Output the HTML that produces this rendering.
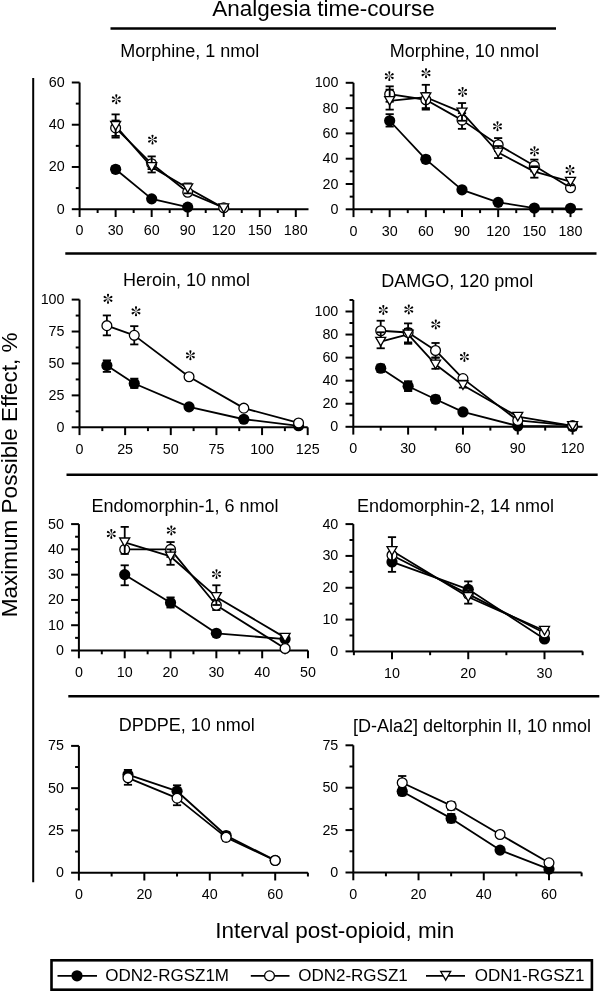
<!DOCTYPE html>
<html><head><meta charset="utf-8"><title>Analgesia time-course</title>
<style>
html,body{margin:0;padding:0;background:#fff;width:600px;height:992px;overflow:hidden}
svg text{stroke:none;fill:#000}
svg{filter:grayscale(1)}
</style></head><body>
<svg width="600" height="992" viewBox="0 0 600 992" style="position:absolute;left:0;top:0" stroke="#000" fill="#000" font-family='"Liberation Sans", sans-serif'>
<text x="212.2" y="16.2" font-size="22.5" text-anchor="start" stroke="none">Analgesia time-course</text>
<line x1="110.5" y1="28.5" x2="556" y2="28.5" stroke-width="2.5" stroke-linecap="butt"/>
<line x1="33.2" y1="78" x2="33.2" y2="882.2" stroke-width="2" stroke-linecap="butt"/>
<line x1="65.3" y1="253.6" x2="596.5" y2="253.6" stroke-width="2.5" stroke-linecap="butt"/>
<line x1="66.5" y1="474.7" x2="597.7" y2="474.7" stroke-width="2.5" stroke-linecap="butt"/>
<line x1="68.3" y1="696.3" x2="599.3" y2="696.3" stroke-width="2.5" stroke-linecap="butt"/>
<text x="0" y="0" font-size="22.5" text-anchor="middle" stroke="none" transform="translate(16.6,474.8) rotate(-90)">Maximum Possible Effect, %</text>
<text x="215.3" y="937.5" font-size="22.5" text-anchor="start" stroke="none">Interval post-opioid, min</text>
<text x="120.2" y="57.4" font-size="18" text-anchor="start" stroke="none">Morphine, 1 nmol</text>
<text x="389.8" y="57.4" font-size="18" text-anchor="start" stroke="none">Morphine, 10 nmol</text>
<text x="123" y="285.8" font-size="18" text-anchor="start" stroke="none">Heroin, 10 nmol</text>
<text x="381.3" y="287" font-size="18" text-anchor="start" stroke="none">DAMGO, 120 pmol</text>
<text x="91.5" y="512" font-size="18" text-anchor="start" stroke="none">Endomorphin-1, 6 nmol</text>
<text x="357" y="511.8" font-size="18" text-anchor="start" stroke="none">Endomorphin-2, 14 nmol</text>
<text x="118.7" y="731.2" font-size="18" text-anchor="start" stroke="none">DPDPE, 10 nmol</text>
<text x="353" y="731.6" font-size="18" text-anchor="start" stroke="none">[D-Ala2] deltorphin II, 10 nmol</text>
<g stroke="none">
</g>
<line x1="79.6" y1="82.5" x2="79.6" y2="209.2" stroke-width="2" stroke-linecap="butt"/>
<line x1="79.6" y1="209.2" x2="308.5" y2="209.2" stroke-width="2" stroke-linecap="butt"/>
<line x1="71.8" y1="209.2" x2="79.6" y2="209.2" stroke-width="2" stroke-linecap="butt"/>
<line x1="71.8" y1="166.97" x2="79.6" y2="166.97" stroke-width="2" stroke-linecap="butt"/>
<line x1="71.8" y1="124.73" x2="79.6" y2="124.73" stroke-width="2" stroke-linecap="butt"/>
<line x1="71.8" y1="82.5" x2="79.6" y2="82.5" stroke-width="2" stroke-linecap="butt"/>
<line x1="75.8" y1="188.08" x2="79.6" y2="188.08" stroke-width="2" stroke-linecap="butt"/>
<line x1="75.8" y1="145.85" x2="79.6" y2="145.85" stroke-width="2" stroke-linecap="butt"/>
<line x1="75.8" y1="103.62" x2="79.6" y2="103.62" stroke-width="2" stroke-linecap="butt"/>
<line x1="79.6" y1="209.2" x2="79.6" y2="217" stroke-width="2" stroke-linecap="butt"/>
<line x1="115.63" y1="209.2" x2="115.63" y2="217" stroke-width="2" stroke-linecap="butt"/>
<line x1="151.67" y1="209.2" x2="151.67" y2="217" stroke-width="2" stroke-linecap="butt"/>
<line x1="187.7" y1="209.2" x2="187.7" y2="217" stroke-width="2" stroke-linecap="butt"/>
<line x1="223.73" y1="209.2" x2="223.73" y2="217" stroke-width="2" stroke-linecap="butt"/>
<line x1="259.77" y1="209.2" x2="259.77" y2="217" stroke-width="2" stroke-linecap="butt"/>
<line x1="295.8" y1="209.2" x2="295.8" y2="217" stroke-width="2" stroke-linecap="butt"/>
<line x1="97.62" y1="209.2" x2="97.62" y2="213" stroke-width="2" stroke-linecap="butt"/>
<line x1="133.65" y1="209.2" x2="133.65" y2="213" stroke-width="2" stroke-linecap="butt"/>
<line x1="169.68" y1="209.2" x2="169.68" y2="213" stroke-width="2" stroke-linecap="butt"/>
<line x1="205.72" y1="209.2" x2="205.72" y2="213" stroke-width="2" stroke-linecap="butt"/>
<line x1="241.75" y1="209.2" x2="241.75" y2="213" stroke-width="2" stroke-linecap="butt"/>
<line x1="277.78" y1="209.2" x2="277.78" y2="213" stroke-width="2" stroke-linecap="butt"/>
<text x="64.6" y="213.7" font-size="14.3" text-anchor="end">0</text>
<text x="64.6" y="171.47" font-size="14.3" text-anchor="end">20</text>
<text x="64.6" y="129.23" font-size="14.3" text-anchor="end">40</text>
<text x="64.6" y="87" font-size="14.3" text-anchor="end">60</text>
<text x="79.6" y="235.4" font-size="14.3" text-anchor="middle">0</text>
<text x="115.63" y="235.4" font-size="14.3" text-anchor="middle">30</text>
<text x="151.67" y="235.4" font-size="14.3" text-anchor="middle">60</text>
<text x="187.7" y="235.4" font-size="14.3" text-anchor="middle">90</text>
<text x="223.73" y="235.4" font-size="14.3" text-anchor="middle">120</text>
<text x="259.77" y="235.4" font-size="14.3" text-anchor="middle">150</text>
<text x="295.8" y="235.4" font-size="14.3" text-anchor="middle">180</text>
<path d="M115.63,169.29L151.67,198.85L187.7,207.09" fill="none" stroke-width="1.8" stroke-linejoin="round"/>
<path d="M115.63,127.9L151.67,163.8L187.7,192.31L223.73,207.72" fill="none" stroke-width="1.8" stroke-linejoin="round"/>
<path d="M115.63,125.79L151.67,166.97L187.7,188.08L223.73,208.14" fill="none" stroke-width="1.8" stroke-linejoin="round"/>
<line x1="115.63" y1="172.46" x2="115.63" y2="166.12" stroke-width="1.8" stroke-linecap="butt"/>
<line x1="111.53" y1="172.46" x2="119.73" y2="172.46" stroke-width="1.8" stroke-linecap="butt"/>
<line x1="111.53" y1="166.12" x2="119.73" y2="166.12" stroke-width="1.8" stroke-linecap="butt"/>
<circle cx="115.63" cy="169.29" r="5.6" fill="#000" stroke="none"/>
<circle cx="151.67" cy="198.85" r="5.6" fill="#000" stroke="none"/>
<circle cx="187.7" cy="207.09" r="5.6" fill="#000" stroke="none"/>
<line x1="115.63" y1="135.93" x2="115.63" y2="120.51" stroke-width="1.8" stroke-linecap="butt"/>
<line x1="111.53" y1="135.93" x2="119.73" y2="135.93" stroke-width="1.8" stroke-linecap="butt"/>
<line x1="111.53" y1="120.51" x2="119.73" y2="120.51" stroke-width="1.8" stroke-linecap="butt"/>
<line x1="151.67" y1="169.08" x2="151.67" y2="160.63" stroke-width="1.8" stroke-linecap="butt"/>
<line x1="147.57" y1="169.08" x2="155.77" y2="169.08" stroke-width="1.8" stroke-linecap="butt"/>
<line x1="147.57" y1="160.63" x2="155.77" y2="160.63" stroke-width="1.8" stroke-linecap="butt"/>
<circle cx="115.63" cy="127.9" r="4.9" fill="#fff" stroke-width="1.3"/>
<circle cx="151.67" cy="163.8" r="4.9" fill="#fff" stroke-width="1.3"/>
<circle cx="187.7" cy="192.31" r="4.9" fill="#fff" stroke-width="1.3"/>
<circle cx="223.73" cy="207.72" r="4.9" fill="#fff" stroke-width="1.3"/>
<line x1="115.63" y1="137.61" x2="115.63" y2="114.39" stroke-width="1.8" stroke-linecap="butt"/>
<line x1="111.53" y1="137.61" x2="119.73" y2="137.61" stroke-width="1.8" stroke-linecap="butt"/>
<line x1="111.53" y1="114.39" x2="119.73" y2="114.39" stroke-width="1.8" stroke-linecap="butt"/>
<line x1="151.67" y1="172.46" x2="151.67" y2="156.41" stroke-width="1.8" stroke-linecap="butt"/>
<line x1="147.57" y1="172.46" x2="155.77" y2="172.46" stroke-width="1.8" stroke-linecap="butt"/>
<line x1="147.57" y1="156.41" x2="155.77" y2="156.41" stroke-width="1.8" stroke-linecap="butt"/>
<line x1="187.7" y1="193.36" x2="187.7" y2="183.44" stroke-width="1.8" stroke-linecap="butt"/>
<line x1="183.6" y1="193.36" x2="191.8" y2="193.36" stroke-width="1.8" stroke-linecap="butt"/>
<line x1="183.6" y1="183.44" x2="191.8" y2="183.44" stroke-width="1.8" stroke-linecap="butt"/>
<path d="M110.63,121.49L120.63,121.49L115.63,130.09Z" fill="#fff" stroke-width="1.3" stroke-linejoin="miter"/>
<path d="M146.67,162.67L156.67,162.67L151.67,171.27Z" fill="#fff" stroke-width="1.3" stroke-linejoin="miter"/>
<path d="M182.7,183.78L192.7,183.78L187.7,192.38Z" fill="#fff" stroke-width="1.3" stroke-linejoin="miter"/>
<path d="M218.73,203.84L228.73,203.84L223.73,212.44Z" fill="#fff" stroke-width="1.3" stroke-linejoin="miter"/>
<circle cx="116.3" cy="99.3" r="0.5" fill="#000" stroke="none"/>
<path d="M116.3,98.8L117.3,95.72A1.05,1.05 0 1 0 115.3,95.72ZM116.73,99.05L119.9,98.38A1.05,1.05 0 1 0 118.9,96.65ZM116.73,99.55L118.9,101.95A1.05,1.05 0 1 0 119.9,100.22ZM116.3,99.8L115.3,102.88A1.05,1.05 0 1 0 117.3,102.88ZM115.87,99.05L113.7,96.65A1.05,1.05 0 1 0 112.7,98.38ZM115.87,99.55L112.7,100.22A1.05,1.05 0 1 0 113.7,101.95Z" fill="#000" stroke="none"/>
<circle cx="152.5" cy="139.6" r="0.5" fill="#000" stroke="none"/>
<path d="M152.5,139.1L153.5,136.02A1.05,1.05 0 1 0 151.5,136.02ZM152.93,139.35L156.1,138.68A1.05,1.05 0 1 0 155.1,136.95ZM152.93,139.85L155.1,142.25A1.05,1.05 0 1 0 156.1,140.52ZM152.5,140.1L151.5,143.18A1.05,1.05 0 1 0 153.5,143.18ZM152.07,139.35L149.9,136.95A1.05,1.05 0 1 0 148.9,138.68ZM152.07,139.85L148.9,140.52A1.05,1.05 0 1 0 149.9,142.25Z" fill="#000" stroke="none"/>
<line x1="353.5" y1="82.8" x2="353.5" y2="209.3" stroke-width="2" stroke-linecap="butt"/>
<line x1="353.5" y1="209.3" x2="582.5" y2="209.3" stroke-width="2" stroke-linecap="butt"/>
<line x1="345.7" y1="209.3" x2="353.5" y2="209.3" stroke-width="2" stroke-linecap="butt"/>
<line x1="345.7" y1="184" x2="353.5" y2="184" stroke-width="2" stroke-linecap="butt"/>
<line x1="345.7" y1="158.7" x2="353.5" y2="158.7" stroke-width="2" stroke-linecap="butt"/>
<line x1="345.7" y1="133.4" x2="353.5" y2="133.4" stroke-width="2" stroke-linecap="butt"/>
<line x1="345.7" y1="108.1" x2="353.5" y2="108.1" stroke-width="2" stroke-linecap="butt"/>
<line x1="345.7" y1="82.8" x2="353.5" y2="82.8" stroke-width="2" stroke-linecap="butt"/>
<line x1="349.7" y1="196.65" x2="353.5" y2="196.65" stroke-width="2" stroke-linecap="butt"/>
<line x1="349.7" y1="171.35" x2="353.5" y2="171.35" stroke-width="2" stroke-linecap="butt"/>
<line x1="349.7" y1="146.05" x2="353.5" y2="146.05" stroke-width="2" stroke-linecap="butt"/>
<line x1="349.7" y1="120.75" x2="353.5" y2="120.75" stroke-width="2" stroke-linecap="butt"/>
<line x1="349.7" y1="95.45" x2="353.5" y2="95.45" stroke-width="2" stroke-linecap="butt"/>
<line x1="353.5" y1="209.3" x2="353.5" y2="217.1" stroke-width="2" stroke-linecap="butt"/>
<line x1="389.67" y1="209.3" x2="389.67" y2="217.1" stroke-width="2" stroke-linecap="butt"/>
<line x1="425.83" y1="209.3" x2="425.83" y2="217.1" stroke-width="2" stroke-linecap="butt"/>
<line x1="462" y1="209.3" x2="462" y2="217.1" stroke-width="2" stroke-linecap="butt"/>
<line x1="498.17" y1="209.3" x2="498.17" y2="217.1" stroke-width="2" stroke-linecap="butt"/>
<line x1="534.33" y1="209.3" x2="534.33" y2="217.1" stroke-width="2" stroke-linecap="butt"/>
<line x1="570.5" y1="209.3" x2="570.5" y2="217.1" stroke-width="2" stroke-linecap="butt"/>
<line x1="371.58" y1="209.3" x2="371.58" y2="213.1" stroke-width="2" stroke-linecap="butt"/>
<line x1="407.75" y1="209.3" x2="407.75" y2="213.1" stroke-width="2" stroke-linecap="butt"/>
<line x1="443.92" y1="209.3" x2="443.92" y2="213.1" stroke-width="2" stroke-linecap="butt"/>
<line x1="480.08" y1="209.3" x2="480.08" y2="213.1" stroke-width="2" stroke-linecap="butt"/>
<line x1="516.25" y1="209.3" x2="516.25" y2="213.1" stroke-width="2" stroke-linecap="butt"/>
<line x1="552.42" y1="209.3" x2="552.42" y2="213.1" stroke-width="2" stroke-linecap="butt"/>
<text x="338.5" y="213.8" font-size="14.3" text-anchor="end">0</text>
<text x="338.5" y="188.5" font-size="14.3" text-anchor="end">20</text>
<text x="338.5" y="163.2" font-size="14.3" text-anchor="end">40</text>
<text x="338.5" y="137.9" font-size="14.3" text-anchor="end">60</text>
<text x="338.5" y="112.6" font-size="14.3" text-anchor="end">80</text>
<text x="338.5" y="87.3" font-size="14.3" text-anchor="end">100</text>
<text x="353.5" y="235.5" font-size="14.3" text-anchor="middle">0</text>
<text x="389.67" y="235.5" font-size="14.3" text-anchor="middle">30</text>
<text x="425.83" y="235.5" font-size="14.3" text-anchor="middle">60</text>
<text x="462" y="235.5" font-size="14.3" text-anchor="middle">90</text>
<text x="498.17" y="235.5" font-size="14.3" text-anchor="middle">120</text>
<text x="534.33" y="235.5" font-size="14.3" text-anchor="middle">150</text>
<text x="570.5" y="235.5" font-size="14.3" text-anchor="middle">180</text>
<path d="M389.67,120.75L425.83,159.33L462,189.82L498.17,202.34L534.33,208.04L570.5,208.29" fill="none" stroke-width="1.8" stroke-linejoin="round"/>
<path d="M389.67,94.19L425.83,99.75L462,120.12L498.17,144.79L534.33,165.78L570.5,187.8" fill="none" stroke-width="1.8" stroke-linejoin="round"/>
<path d="M389.67,100.89L425.83,97.22L462,112.4L498.17,152.5L534.33,171.6L570.5,181.6" fill="none" stroke-width="1.8" stroke-linejoin="round"/>
<line x1="389.67" y1="126.57" x2="389.67" y2="114.17" stroke-width="1.8" stroke-linecap="butt"/>
<line x1="385.57" y1="126.57" x2="393.77" y2="126.57" stroke-width="1.8" stroke-linecap="butt"/>
<line x1="385.57" y1="114.17" x2="393.77" y2="114.17" stroke-width="1.8" stroke-linecap="butt"/>
<line x1="425.83" y1="162.5" x2="425.83" y2="156.17" stroke-width="1.8" stroke-linecap="butt"/>
<line x1="421.73" y1="162.5" x2="429.93" y2="162.5" stroke-width="1.8" stroke-linecap="butt"/>
<line x1="421.73" y1="156.17" x2="429.93" y2="156.17" stroke-width="1.8" stroke-linecap="butt"/>
<circle cx="389.67" cy="120.75" r="5.6" fill="#000" stroke="none"/>
<circle cx="425.83" cy="159.33" r="5.6" fill="#000" stroke="none"/>
<circle cx="462" cy="189.82" r="5.6" fill="#000" stroke="none"/>
<circle cx="498.17" cy="202.34" r="5.6" fill="#000" stroke="none"/>
<circle cx="534.33" cy="208.04" r="5.6" fill="#000" stroke="none"/>
<circle cx="570.5" cy="208.29" r="5.6" fill="#000" stroke="none"/>
<line x1="389.67" y1="101.78" x2="389.67" y2="86.34" stroke-width="1.8" stroke-linecap="butt"/>
<line x1="385.57" y1="101.78" x2="393.77" y2="101.78" stroke-width="1.8" stroke-linecap="butt"/>
<line x1="385.57" y1="86.34" x2="393.77" y2="86.34" stroke-width="1.8" stroke-linecap="butt"/>
<line x1="425.83" y1="109.62" x2="425.83" y2="92.92" stroke-width="1.8" stroke-linecap="butt"/>
<line x1="421.73" y1="109.62" x2="429.93" y2="109.62" stroke-width="1.8" stroke-linecap="butt"/>
<line x1="421.73" y1="92.92" x2="429.93" y2="92.92" stroke-width="1.8" stroke-linecap="butt"/>
<line x1="462" y1="128.85" x2="462" y2="113.16" stroke-width="1.8" stroke-linecap="butt"/>
<line x1="457.9" y1="128.85" x2="466.1" y2="128.85" stroke-width="1.8" stroke-linecap="butt"/>
<line x1="457.9" y1="113.16" x2="466.1" y2="113.16" stroke-width="1.8" stroke-linecap="butt"/>
<line x1="498.17" y1="151.11" x2="498.17" y2="138.08" stroke-width="1.8" stroke-linecap="butt"/>
<line x1="494.07" y1="151.11" x2="502.27" y2="151.11" stroke-width="1.8" stroke-linecap="butt"/>
<line x1="494.07" y1="138.08" x2="502.27" y2="138.08" stroke-width="1.8" stroke-linecap="butt"/>
<line x1="534.33" y1="171.35" x2="534.33" y2="159.59" stroke-width="1.8" stroke-linecap="butt"/>
<line x1="530.23" y1="171.35" x2="538.43" y2="171.35" stroke-width="1.8" stroke-linecap="butt"/>
<line x1="530.23" y1="159.59" x2="538.43" y2="159.59" stroke-width="1.8" stroke-linecap="butt"/>
<circle cx="389.67" cy="94.19" r="4.9" fill="#fff" stroke-width="1.3"/>
<circle cx="425.83" cy="99.75" r="4.9" fill="#fff" stroke-width="1.3"/>
<circle cx="462" cy="120.12" r="4.9" fill="#fff" stroke-width="1.3"/>
<circle cx="498.17" cy="144.79" r="4.9" fill="#fff" stroke-width="1.3"/>
<circle cx="534.33" cy="165.78" r="4.9" fill="#fff" stroke-width="1.3"/>
<circle cx="570.5" cy="187.8" r="4.9" fill="#fff" stroke-width="1.3"/>
<line x1="389.67" y1="109.62" x2="389.67" y2="89.63" stroke-width="1.8" stroke-linecap="butt"/>
<line x1="385.57" y1="109.62" x2="393.77" y2="109.62" stroke-width="1.8" stroke-linecap="butt"/>
<line x1="385.57" y1="89.63" x2="393.77" y2="89.63" stroke-width="1.8" stroke-linecap="butt"/>
<line x1="425.83" y1="108.1" x2="425.83" y2="84.82" stroke-width="1.8" stroke-linecap="butt"/>
<line x1="421.73" y1="108.1" x2="429.93" y2="108.1" stroke-width="1.8" stroke-linecap="butt"/>
<line x1="421.73" y1="84.82" x2="429.93" y2="84.82" stroke-width="1.8" stroke-linecap="butt"/>
<line x1="462" y1="120.75" x2="462" y2="103.04" stroke-width="1.8" stroke-linecap="butt"/>
<line x1="457.9" y1="120.75" x2="466.1" y2="120.75" stroke-width="1.8" stroke-linecap="butt"/>
<line x1="457.9" y1="103.04" x2="466.1" y2="103.04" stroke-width="1.8" stroke-linecap="butt"/>
<line x1="498.17" y1="158.07" x2="498.17" y2="146.05" stroke-width="1.8" stroke-linecap="butt"/>
<line x1="494.07" y1="158.07" x2="502.27" y2="158.07" stroke-width="1.8" stroke-linecap="butt"/>
<line x1="494.07" y1="146.05" x2="502.27" y2="146.05" stroke-width="1.8" stroke-linecap="butt"/>
<line x1="534.33" y1="177.68" x2="534.33" y2="166.29" stroke-width="1.8" stroke-linecap="butt"/>
<line x1="530.23" y1="177.68" x2="538.43" y2="177.68" stroke-width="1.8" stroke-linecap="butt"/>
<line x1="530.23" y1="166.29" x2="538.43" y2="166.29" stroke-width="1.8" stroke-linecap="butt"/>
<line x1="570.5" y1="185.27" x2="570.5" y2="178.94" stroke-width="1.8" stroke-linecap="butt"/>
<line x1="566.4" y1="185.27" x2="574.6" y2="185.27" stroke-width="1.8" stroke-linecap="butt"/>
<line x1="566.4" y1="178.94" x2="574.6" y2="178.94" stroke-width="1.8" stroke-linecap="butt"/>
<path d="M384.67,96.59L394.67,96.59L389.67,105.19Z" fill="#fff" stroke-width="1.3" stroke-linejoin="miter"/>
<path d="M420.83,92.92L430.83,92.92L425.83,101.52Z" fill="#fff" stroke-width="1.3" stroke-linejoin="miter"/>
<path d="M457,108.1L467,108.1L462,116.7Z" fill="#fff" stroke-width="1.3" stroke-linejoin="miter"/>
<path d="M493.17,148.2L503.17,148.2L498.17,156.8Z" fill="#fff" stroke-width="1.3" stroke-linejoin="miter"/>
<path d="M529.33,167.3L539.33,167.3L534.33,175.9Z" fill="#fff" stroke-width="1.3" stroke-linejoin="miter"/>
<path d="M565.5,177.3L575.5,177.3L570.5,185.9Z" fill="#fff" stroke-width="1.3" stroke-linejoin="miter"/>
<circle cx="389.3" cy="76.1" r="0.5" fill="#000" stroke="none"/>
<path d="M389.3,75.6L390.3,72.52A1.05,1.05 0 1 0 388.3,72.52ZM389.73,75.85L392.9,75.18A1.05,1.05 0 1 0 391.9,73.45ZM389.73,76.35L391.9,78.75A1.05,1.05 0 1 0 392.9,77.02ZM389.3,76.6L388.3,79.68A1.05,1.05 0 1 0 390.3,79.68ZM388.87,75.85L386.7,73.45A1.05,1.05 0 1 0 385.7,75.18ZM388.87,76.35L385.7,77.02A1.05,1.05 0 1 0 386.7,78.75Z" fill="#000" stroke="none"/>
<circle cx="426" cy="73.2" r="0.5" fill="#000" stroke="none"/>
<path d="M426,72.7L427,69.62A1.05,1.05 0 1 0 425,69.62ZM426.43,72.95L429.6,72.28A1.05,1.05 0 1 0 428.6,70.55ZM426.43,73.45L428.6,75.85A1.05,1.05 0 1 0 429.6,74.12ZM426,73.7L425,76.78A1.05,1.05 0 1 0 427,76.78ZM425.57,72.95L423.4,70.55A1.05,1.05 0 1 0 422.4,72.28ZM425.57,73.45L422.4,74.12A1.05,1.05 0 1 0 423.4,75.85Z" fill="#000" stroke="none"/>
<circle cx="462.6" cy="92" r="0.5" fill="#000" stroke="none"/>
<path d="M462.6,91.5L463.6,88.42A1.05,1.05 0 1 0 461.6,88.42ZM463.03,91.75L466.2,91.08A1.05,1.05 0 1 0 465.2,89.35ZM463.03,92.25L465.2,94.65A1.05,1.05 0 1 0 466.2,92.92ZM462.6,92.5L461.6,95.58A1.05,1.05 0 1 0 463.6,95.58ZM462.17,91.75L460,89.35A1.05,1.05 0 1 0 459,91.08ZM462.17,92.25L459,92.92A1.05,1.05 0 1 0 460,94.65Z" fill="#000" stroke="none"/>
<circle cx="497.5" cy="126.3" r="0.5" fill="#000" stroke="none"/>
<path d="M497.5,125.8L498.5,122.72A1.05,1.05 0 1 0 496.5,122.72ZM497.93,126.05L501.1,125.38A1.05,1.05 0 1 0 500.1,123.65ZM497.93,126.55L500.1,128.95A1.05,1.05 0 1 0 501.1,127.22ZM497.5,126.8L496.5,129.88A1.05,1.05 0 1 0 498.5,129.88ZM497.07,126.05L494.9,123.65A1.05,1.05 0 1 0 493.9,125.38ZM497.07,126.55L493.9,127.22A1.05,1.05 0 1 0 494.9,128.95Z" fill="#000" stroke="none"/>
<circle cx="534.5" cy="151.3" r="0.5" fill="#000" stroke="none"/>
<path d="M534.5,150.8L535.5,147.72A1.05,1.05 0 1 0 533.5,147.72ZM534.93,151.05L538.1,150.38A1.05,1.05 0 1 0 537.1,148.65ZM534.93,151.55L537.1,153.95A1.05,1.05 0 1 0 538.1,152.22ZM534.5,151.8L533.5,154.88A1.05,1.05 0 1 0 535.5,154.88ZM534.07,151.05L531.9,148.65A1.05,1.05 0 1 0 530.9,150.38ZM534.07,151.55L530.9,152.22A1.05,1.05 0 1 0 531.9,153.95Z" fill="#000" stroke="none"/>
<circle cx="570" cy="170" r="0.5" fill="#000" stroke="none"/>
<path d="M570,169.5L571,166.42A1.05,1.05 0 1 0 569,166.42ZM570.43,169.75L573.6,169.08A1.05,1.05 0 1 0 572.6,167.35ZM570.43,170.25L572.6,172.65A1.05,1.05 0 1 0 573.6,170.92ZM570,170.5L569,173.58A1.05,1.05 0 1 0 571,173.58ZM569.57,169.75L567.4,167.35A1.05,1.05 0 1 0 566.4,169.08ZM569.57,170.25L566.4,170.92A1.05,1.05 0 1 0 567.4,172.65Z" fill="#000" stroke="none"/>
<line x1="79.5" y1="299.6" x2="79.5" y2="427.3" stroke-width="2" stroke-linecap="butt"/>
<line x1="79.5" y1="427.3" x2="307.7" y2="427.3" stroke-width="2" stroke-linecap="butt"/>
<line x1="71.7" y1="427.3" x2="79.5" y2="427.3" stroke-width="2" stroke-linecap="butt"/>
<line x1="71.7" y1="395.38" x2="79.5" y2="395.38" stroke-width="2" stroke-linecap="butt"/>
<line x1="71.7" y1="363.45" x2="79.5" y2="363.45" stroke-width="2" stroke-linecap="butt"/>
<line x1="71.7" y1="331.53" x2="79.5" y2="331.53" stroke-width="2" stroke-linecap="butt"/>
<line x1="71.7" y1="299.6" x2="79.5" y2="299.6" stroke-width="2" stroke-linecap="butt"/>
<line x1="75.7" y1="411.34" x2="79.5" y2="411.34" stroke-width="2" stroke-linecap="butt"/>
<line x1="75.7" y1="379.41" x2="79.5" y2="379.41" stroke-width="2" stroke-linecap="butt"/>
<line x1="75.7" y1="347.49" x2="79.5" y2="347.49" stroke-width="2" stroke-linecap="butt"/>
<line x1="75.7" y1="315.56" x2="79.5" y2="315.56" stroke-width="2" stroke-linecap="butt"/>
<line x1="79.5" y1="427.3" x2="79.5" y2="435.1" stroke-width="2" stroke-linecap="butt"/>
<line x1="125.14" y1="427.3" x2="125.14" y2="435.1" stroke-width="2" stroke-linecap="butt"/>
<line x1="170.78" y1="427.3" x2="170.78" y2="435.1" stroke-width="2" stroke-linecap="butt"/>
<line x1="216.42" y1="427.3" x2="216.42" y2="435.1" stroke-width="2" stroke-linecap="butt"/>
<line x1="262.06" y1="427.3" x2="262.06" y2="435.1" stroke-width="2" stroke-linecap="butt"/>
<line x1="307.7" y1="427.3" x2="307.7" y2="435.1" stroke-width="2" stroke-linecap="butt"/>
<line x1="102.32" y1="427.3" x2="102.32" y2="431.1" stroke-width="2" stroke-linecap="butt"/>
<line x1="147.96" y1="427.3" x2="147.96" y2="431.1" stroke-width="2" stroke-linecap="butt"/>
<line x1="193.6" y1="427.3" x2="193.6" y2="431.1" stroke-width="2" stroke-linecap="butt"/>
<line x1="239.24" y1="427.3" x2="239.24" y2="431.1" stroke-width="2" stroke-linecap="butt"/>
<line x1="284.88" y1="427.3" x2="284.88" y2="431.1" stroke-width="2" stroke-linecap="butt"/>
<text x="64.5" y="431.8" font-size="14.3" text-anchor="end">0</text>
<text x="64.5" y="399.88" font-size="14.3" text-anchor="end">25</text>
<text x="64.5" y="367.95" font-size="14.3" text-anchor="end">50</text>
<text x="64.5" y="336.03" font-size="14.3" text-anchor="end">75</text>
<text x="64.5" y="304.1" font-size="14.3" text-anchor="end">100</text>
<text x="79.5" y="453.5" font-size="14.3" text-anchor="middle">0</text>
<text x="125.14" y="453.5" font-size="14.3" text-anchor="middle">25</text>
<text x="170.78" y="453.5" font-size="14.3" text-anchor="middle">50</text>
<text x="216.42" y="453.5" font-size="14.3" text-anchor="middle">75</text>
<text x="262.06" y="453.5" font-size="14.3" text-anchor="middle">100</text>
<text x="307.7" y="453.5" font-size="14.3" text-anchor="middle">125</text>
<path d="M106.88,365.49L134.27,383.5L189.04,406.87L243.8,419.25L298.57,425.77" fill="none" stroke-width="1.8" stroke-linejoin="round"/>
<path d="M106.88,325.65L134.27,335.36L189.04,376.73L243.8,408.15L298.57,422.96" fill="none" stroke-width="1.8" stroke-linejoin="round"/>
<line x1="106.88" y1="371.88" x2="106.88" y2="360.39" stroke-width="1.8" stroke-linecap="butt"/>
<line x1="102.78" y1="371.88" x2="110.98" y2="371.88" stroke-width="1.8" stroke-linecap="butt"/>
<line x1="102.78" y1="360.39" x2="110.98" y2="360.39" stroke-width="1.8" stroke-linecap="butt"/>
<line x1="134.27" y1="387.97" x2="134.27" y2="378.65" stroke-width="1.8" stroke-linecap="butt"/>
<line x1="130.17" y1="387.97" x2="138.37" y2="387.97" stroke-width="1.8" stroke-linecap="butt"/>
<line x1="130.17" y1="378.65" x2="138.37" y2="378.65" stroke-width="1.8" stroke-linecap="butt"/>
<circle cx="106.88" cy="365.49" r="5.6" fill="#000" stroke="none"/>
<circle cx="134.27" cy="383.5" r="5.6" fill="#000" stroke="none"/>
<circle cx="189.04" cy="406.87" r="5.6" fill="#000" stroke="none"/>
<circle cx="243.8" cy="419.25" r="5.6" fill="#000" stroke="none"/>
<circle cx="298.57" cy="425.77" r="5.6" fill="#000" stroke="none"/>
<line x1="106.88" y1="335.36" x2="106.88" y2="315.43" stroke-width="1.8" stroke-linecap="butt"/>
<line x1="102.78" y1="335.36" x2="110.98" y2="335.36" stroke-width="1.8" stroke-linecap="butt"/>
<line x1="102.78" y1="315.43" x2="110.98" y2="315.43" stroke-width="1.8" stroke-linecap="butt"/>
<line x1="134.27" y1="344.42" x2="134.27" y2="326.16" stroke-width="1.8" stroke-linecap="butt"/>
<line x1="130.17" y1="344.42" x2="138.37" y2="344.42" stroke-width="1.8" stroke-linecap="butt"/>
<line x1="130.17" y1="326.16" x2="138.37" y2="326.16" stroke-width="1.8" stroke-linecap="butt"/>
<circle cx="106.88" cy="325.65" r="4.9" fill="#fff" stroke-width="1.3"/>
<circle cx="134.27" cy="335.36" r="4.9" fill="#fff" stroke-width="1.3"/>
<circle cx="189.04" cy="376.73" r="4.9" fill="#fff" stroke-width="1.3"/>
<circle cx="243.8" cy="408.15" r="4.9" fill="#fff" stroke-width="1.3"/>
<circle cx="298.57" cy="422.96" r="4.9" fill="#fff" stroke-width="1.3"/>
<circle cx="108" cy="298.8" r="0.5" fill="#000" stroke="none"/>
<path d="M108,298.3L109,295.22A1.05,1.05 0 1 0 107,295.22ZM108.43,298.55L111.6,297.88A1.05,1.05 0 1 0 110.6,296.15ZM108.43,299.05L110.6,301.45A1.05,1.05 0 1 0 111.6,299.72ZM108,299.3L107,302.38A1.05,1.05 0 1 0 109,302.38ZM107.57,298.55L105.4,296.15A1.05,1.05 0 1 0 104.4,297.88ZM107.57,299.05L104.4,299.72A1.05,1.05 0 1 0 105.4,301.45Z" fill="#000" stroke="none"/>
<circle cx="136" cy="311.3" r="0.5" fill="#000" stroke="none"/>
<path d="M136,310.8L137,307.72A1.05,1.05 0 1 0 135,307.72ZM136.43,311.05L139.6,310.38A1.05,1.05 0 1 0 138.6,308.65ZM136.43,311.55L138.6,313.95A1.05,1.05 0 1 0 139.6,312.22ZM136,311.8L135,314.88A1.05,1.05 0 1 0 137,314.88ZM135.57,311.05L133.4,308.65A1.05,1.05 0 1 0 132.4,310.38ZM135.57,311.55L132.4,312.22A1.05,1.05 0 1 0 133.4,313.95Z" fill="#000" stroke="none"/>
<circle cx="190.4" cy="355.3" r="0.5" fill="#000" stroke="none"/>
<path d="M190.4,354.8L191.4,351.72A1.05,1.05 0 1 0 189.4,351.72ZM190.83,355.05L194,354.38A1.05,1.05 0 1 0 193,352.65ZM190.83,355.55L193,357.95A1.05,1.05 0 1 0 194,356.22ZM190.4,355.8L189.4,358.88A1.05,1.05 0 1 0 191.4,358.88ZM189.97,355.05L187.8,352.65A1.05,1.05 0 1 0 186.8,354.38ZM189.97,355.55L186.8,356.22A1.05,1.05 0 1 0 187.8,357.95Z" fill="#000" stroke="none"/>
<line x1="353.3" y1="299.97" x2="353.3" y2="426.8" stroke-width="2" stroke-linecap="butt"/>
<line x1="353.3" y1="426.8" x2="582.5" y2="426.8" stroke-width="2" stroke-linecap="butt"/>
<line x1="345.5" y1="426.8" x2="353.3" y2="426.8" stroke-width="2" stroke-linecap="butt"/>
<line x1="345.5" y1="403.74" x2="353.3" y2="403.74" stroke-width="2" stroke-linecap="butt"/>
<line x1="345.5" y1="380.68" x2="353.3" y2="380.68" stroke-width="2" stroke-linecap="butt"/>
<line x1="345.5" y1="357.62" x2="353.3" y2="357.62" stroke-width="2" stroke-linecap="butt"/>
<line x1="345.5" y1="334.56" x2="353.3" y2="334.56" stroke-width="2" stroke-linecap="butt"/>
<line x1="345.5" y1="311.5" x2="353.3" y2="311.5" stroke-width="2" stroke-linecap="butt"/>
<line x1="349.5" y1="415.27" x2="353.3" y2="415.27" stroke-width="2" stroke-linecap="butt"/>
<line x1="349.5" y1="392.21" x2="353.3" y2="392.21" stroke-width="2" stroke-linecap="butt"/>
<line x1="349.5" y1="369.15" x2="353.3" y2="369.15" stroke-width="2" stroke-linecap="butt"/>
<line x1="349.5" y1="346.09" x2="353.3" y2="346.09" stroke-width="2" stroke-linecap="butt"/>
<line x1="349.5" y1="323.03" x2="353.3" y2="323.03" stroke-width="2" stroke-linecap="butt"/>
<line x1="349.5" y1="299.97" x2="353.3" y2="299.97" stroke-width="2" stroke-linecap="butt"/>
<line x1="353.3" y1="426.8" x2="353.3" y2="434.6" stroke-width="2" stroke-linecap="butt"/>
<line x1="408.12" y1="426.8" x2="408.12" y2="434.6" stroke-width="2" stroke-linecap="butt"/>
<line x1="462.95" y1="426.8" x2="462.95" y2="434.6" stroke-width="2" stroke-linecap="butt"/>
<line x1="517.78" y1="426.8" x2="517.78" y2="434.6" stroke-width="2" stroke-linecap="butt"/>
<line x1="572.6" y1="426.8" x2="572.6" y2="434.6" stroke-width="2" stroke-linecap="butt"/>
<line x1="380.71" y1="426.8" x2="380.71" y2="430.6" stroke-width="2" stroke-linecap="butt"/>
<line x1="435.54" y1="426.8" x2="435.54" y2="430.6" stroke-width="2" stroke-linecap="butt"/>
<line x1="490.36" y1="426.8" x2="490.36" y2="430.6" stroke-width="2" stroke-linecap="butt"/>
<line x1="545.19" y1="426.8" x2="545.19" y2="430.6" stroke-width="2" stroke-linecap="butt"/>
<text x="338.3" y="431.3" font-size="14.3" text-anchor="end">0</text>
<text x="338.3" y="408.24" font-size="14.3" text-anchor="end">20</text>
<text x="338.3" y="385.18" font-size="14.3" text-anchor="end">40</text>
<text x="338.3" y="362.12" font-size="14.3" text-anchor="end">60</text>
<text x="338.3" y="339.06" font-size="14.3" text-anchor="end">80</text>
<text x="338.3" y="316" font-size="14.3" text-anchor="end">100</text>
<text x="353.3" y="453" font-size="14.3" text-anchor="middle">0</text>
<text x="408.12" y="453" font-size="14.3" text-anchor="middle">30</text>
<text x="462.95" y="453" font-size="14.3" text-anchor="middle">60</text>
<text x="517.78" y="453" font-size="14.3" text-anchor="middle">90</text>
<text x="572.6" y="453" font-size="14.3" text-anchor="middle">120</text>
<path d="M380.71,368.23L408.12,386.21L435.54,399.24L462.95,411.93L517.78,425.99L572.6,426.45" fill="none" stroke-width="1.8" stroke-linejoin="round"/>
<path d="M380.71,330.76L408.12,332.48L435.54,350.47L462.95,378.6L517.78,420.46L572.6,425.53" fill="none" stroke-width="1.8" stroke-linejoin="round"/>
<path d="M380.71,341.59L408.12,334.44L435.54,364.42L462.95,385.18L517.78,416.65L572.6,425.88" fill="none" stroke-width="1.8" stroke-linejoin="round"/>
<line x1="380.71" y1="372.03" x2="380.71" y2="364.54" stroke-width="1.8" stroke-linecap="butt"/>
<line x1="376.61" y1="372.03" x2="384.81" y2="372.03" stroke-width="1.8" stroke-linecap="butt"/>
<line x1="376.61" y1="364.54" x2="384.81" y2="364.54" stroke-width="1.8" stroke-linecap="butt"/>
<line x1="408.12" y1="391.06" x2="408.12" y2="381.26" stroke-width="1.8" stroke-linecap="butt"/>
<line x1="404.02" y1="391.06" x2="412.23" y2="391.06" stroke-width="1.8" stroke-linecap="butt"/>
<line x1="404.02" y1="381.26" x2="412.23" y2="381.26" stroke-width="1.8" stroke-linecap="butt"/>
<line x1="435.54" y1="402.59" x2="435.54" y2="395.67" stroke-width="1.8" stroke-linecap="butt"/>
<line x1="431.44" y1="402.59" x2="439.64" y2="402.59" stroke-width="1.8" stroke-linecap="butt"/>
<line x1="431.44" y1="395.67" x2="439.64" y2="395.67" stroke-width="1.8" stroke-linecap="butt"/>
<circle cx="380.71" cy="368.23" r="5.6" fill="#000" stroke="none"/>
<circle cx="408.12" cy="386.21" r="5.6" fill="#000" stroke="none"/>
<circle cx="435.54" cy="399.24" r="5.6" fill="#000" stroke="none"/>
<circle cx="462.95" cy="411.93" r="5.6" fill="#000" stroke="none"/>
<circle cx="517.78" cy="425.99" r="5.6" fill="#000" stroke="none"/>
<circle cx="572.6" cy="426.45" r="5.6" fill="#000" stroke="none"/>
<line x1="380.71" y1="339.17" x2="380.71" y2="320.72" stroke-width="1.8" stroke-linecap="butt"/>
<line x1="376.61" y1="339.17" x2="384.81" y2="339.17" stroke-width="1.8" stroke-linecap="butt"/>
<line x1="376.61" y1="320.72" x2="384.81" y2="320.72" stroke-width="1.8" stroke-linecap="butt"/>
<line x1="408.12" y1="343.78" x2="408.12" y2="323.38" stroke-width="1.8" stroke-linecap="butt"/>
<line x1="404.02" y1="343.78" x2="412.23" y2="343.78" stroke-width="1.8" stroke-linecap="butt"/>
<line x1="404.02" y1="323.38" x2="412.23" y2="323.38" stroke-width="1.8" stroke-linecap="butt"/>
<line x1="435.54" y1="357.62" x2="435.54" y2="342.98" stroke-width="1.8" stroke-linecap="butt"/>
<line x1="431.44" y1="357.62" x2="439.64" y2="357.62" stroke-width="1.8" stroke-linecap="butt"/>
<line x1="431.44" y1="342.98" x2="439.64" y2="342.98" stroke-width="1.8" stroke-linecap="butt"/>
<circle cx="380.71" cy="330.76" r="4.9" fill="#fff" stroke-width="1.3"/>
<circle cx="408.12" cy="332.48" r="4.9" fill="#fff" stroke-width="1.3"/>
<circle cx="435.54" cy="350.47" r="4.9" fill="#fff" stroke-width="1.3"/>
<circle cx="462.95" cy="378.6" r="4.9" fill="#fff" stroke-width="1.3"/>
<circle cx="517.78" cy="420.46" r="4.9" fill="#fff" stroke-width="1.3"/>
<circle cx="572.6" cy="425.53" r="4.9" fill="#fff" stroke-width="1.3"/>
<line x1="380.71" y1="348.28" x2="380.71" y2="332.25" stroke-width="1.8" stroke-linecap="butt"/>
<line x1="376.61" y1="348.28" x2="384.81" y2="348.28" stroke-width="1.8" stroke-linecap="butt"/>
<line x1="376.61" y1="332.25" x2="384.81" y2="332.25" stroke-width="1.8" stroke-linecap="butt"/>
<line x1="408.12" y1="342.4" x2="408.12" y2="328.8" stroke-width="1.8" stroke-linecap="butt"/>
<line x1="404.02" y1="342.4" x2="412.23" y2="342.4" stroke-width="1.8" stroke-linecap="butt"/>
<line x1="404.02" y1="328.8" x2="412.23" y2="328.8" stroke-width="1.8" stroke-linecap="butt"/>
<line x1="435.54" y1="368.8" x2="435.54" y2="357.62" stroke-width="1.8" stroke-linecap="butt"/>
<line x1="431.44" y1="368.8" x2="439.64" y2="368.8" stroke-width="1.8" stroke-linecap="butt"/>
<line x1="431.44" y1="357.62" x2="439.64" y2="357.62" stroke-width="1.8" stroke-linecap="butt"/>
<line x1="462.95" y1="387.6" x2="462.95" y2="380.68" stroke-width="1.8" stroke-linecap="butt"/>
<line x1="458.85" y1="387.6" x2="467.05" y2="387.6" stroke-width="1.8" stroke-linecap="butt"/>
<line x1="458.85" y1="380.68" x2="467.05" y2="380.68" stroke-width="1.8" stroke-linecap="butt"/>
<line x1="572.6" y1="430.26" x2="572.6" y2="424.49" stroke-width="1.8" stroke-linecap="butt"/>
<line x1="568.5" y1="430.26" x2="576.7" y2="430.26" stroke-width="1.8" stroke-linecap="butt"/>
<line x1="568.5" y1="424.49" x2="576.7" y2="424.49" stroke-width="1.8" stroke-linecap="butt"/>
<path d="M375.71,337.29L385.71,337.29L380.71,345.89Z" fill="#fff" stroke-width="1.3" stroke-linejoin="miter"/>
<path d="M403.12,330.14L413.12,330.14L408.12,338.74Z" fill="#fff" stroke-width="1.3" stroke-linejoin="miter"/>
<path d="M430.54,360.12L440.54,360.12L435.54,368.72Z" fill="#fff" stroke-width="1.3" stroke-linejoin="miter"/>
<path d="M457.95,380.88L467.95,380.88L462.95,389.48Z" fill="#fff" stroke-width="1.3" stroke-linejoin="miter"/>
<path d="M512.78,412.35L522.78,412.35L517.78,420.95Z" fill="#fff" stroke-width="1.3" stroke-linejoin="miter"/>
<path d="M567.6,421.58L577.6,421.58L572.6,430.18Z" fill="#fff" stroke-width="1.3" stroke-linejoin="miter"/>
<circle cx="383.3" cy="310" r="0.5" fill="#000" stroke="none"/>
<path d="M383.3,309.5L384.3,306.42A1.05,1.05 0 1 0 382.3,306.42ZM383.73,309.75L386.9,309.08A1.05,1.05 0 1 0 385.9,307.35ZM383.73,310.25L385.9,312.65A1.05,1.05 0 1 0 386.9,310.92ZM383.3,310.5L382.3,313.58A1.05,1.05 0 1 0 384.3,313.58ZM382.87,309.75L380.7,307.35A1.05,1.05 0 1 0 379.7,309.08ZM382.87,310.25L379.7,310.92A1.05,1.05 0 1 0 380.7,312.65Z" fill="#000" stroke="none"/>
<circle cx="408.8" cy="309.5" r="0.5" fill="#000" stroke="none"/>
<path d="M408.8,309L409.8,305.92A1.05,1.05 0 1 0 407.8,305.92ZM409.23,309.25L412.4,308.58A1.05,1.05 0 1 0 411.4,306.85ZM409.23,309.75L411.4,312.15A1.05,1.05 0 1 0 412.4,310.42ZM408.8,310L407.8,313.08A1.05,1.05 0 1 0 409.8,313.08ZM408.37,309.25L406.2,306.85A1.05,1.05 0 1 0 405.2,308.58ZM408.37,309.75L405.2,310.42A1.05,1.05 0 1 0 406.2,312.15Z" fill="#000" stroke="none"/>
<circle cx="435.8" cy="324.5" r="0.5" fill="#000" stroke="none"/>
<path d="M435.8,324L436.8,320.92A1.05,1.05 0 1 0 434.8,320.92ZM436.23,324.25L439.4,323.58A1.05,1.05 0 1 0 438.4,321.85ZM436.23,324.75L438.4,327.15A1.05,1.05 0 1 0 439.4,325.42ZM435.8,325L434.8,328.08A1.05,1.05 0 1 0 436.8,328.08ZM435.37,324.25L433.2,321.85A1.05,1.05 0 1 0 432.2,323.58ZM435.37,324.75L432.2,325.42A1.05,1.05 0 1 0 433.2,327.15Z" fill="#000" stroke="none"/>
<circle cx="464.4" cy="357" r="0.5" fill="#000" stroke="none"/>
<path d="M464.4,356.5L465.4,353.42A1.05,1.05 0 1 0 463.4,353.42ZM464.83,356.75L468,356.08A1.05,1.05 0 1 0 467,354.35ZM464.83,357.25L467,359.65A1.05,1.05 0 1 0 468,357.92ZM464.4,357.5L463.4,360.58A1.05,1.05 0 1 0 465.4,360.58ZM463.97,356.75L461.8,354.35A1.05,1.05 0 1 0 460.8,356.08ZM463.97,357.25L460.8,357.92A1.05,1.05 0 1 0 461.8,359.65Z" fill="#000" stroke="none"/>
<line x1="78.9" y1="524.1" x2="78.9" y2="650.5" stroke-width="2" stroke-linecap="butt"/>
<line x1="78.9" y1="650.5" x2="308" y2="650.5" stroke-width="2" stroke-linecap="butt"/>
<line x1="71.1" y1="650.5" x2="78.9" y2="650.5" stroke-width="2" stroke-linecap="butt"/>
<line x1="71.1" y1="625.22" x2="78.9" y2="625.22" stroke-width="2" stroke-linecap="butt"/>
<line x1="71.1" y1="599.94" x2="78.9" y2="599.94" stroke-width="2" stroke-linecap="butt"/>
<line x1="71.1" y1="574.66" x2="78.9" y2="574.66" stroke-width="2" stroke-linecap="butt"/>
<line x1="71.1" y1="549.38" x2="78.9" y2="549.38" stroke-width="2" stroke-linecap="butt"/>
<line x1="71.1" y1="524.1" x2="78.9" y2="524.1" stroke-width="2" stroke-linecap="butt"/>
<line x1="75.1" y1="637.86" x2="78.9" y2="637.86" stroke-width="2" stroke-linecap="butt"/>
<line x1="75.1" y1="612.58" x2="78.9" y2="612.58" stroke-width="2" stroke-linecap="butt"/>
<line x1="75.1" y1="587.3" x2="78.9" y2="587.3" stroke-width="2" stroke-linecap="butt"/>
<line x1="75.1" y1="562.02" x2="78.9" y2="562.02" stroke-width="2" stroke-linecap="butt"/>
<line x1="75.1" y1="536.74" x2="78.9" y2="536.74" stroke-width="2" stroke-linecap="butt"/>
<line x1="78.9" y1="650.5" x2="78.9" y2="658.3" stroke-width="2" stroke-linecap="butt"/>
<line x1="124.72" y1="650.5" x2="124.72" y2="658.3" stroke-width="2" stroke-linecap="butt"/>
<line x1="170.54" y1="650.5" x2="170.54" y2="658.3" stroke-width="2" stroke-linecap="butt"/>
<line x1="216.36" y1="650.5" x2="216.36" y2="658.3" stroke-width="2" stroke-linecap="butt"/>
<line x1="262.18" y1="650.5" x2="262.18" y2="658.3" stroke-width="2" stroke-linecap="butt"/>
<line x1="308" y1="650.5" x2="308" y2="658.3" stroke-width="2" stroke-linecap="butt"/>
<line x1="101.81" y1="650.5" x2="101.81" y2="654.3" stroke-width="2" stroke-linecap="butt"/>
<line x1="147.63" y1="650.5" x2="147.63" y2="654.3" stroke-width="2" stroke-linecap="butt"/>
<line x1="193.45" y1="650.5" x2="193.45" y2="654.3" stroke-width="2" stroke-linecap="butt"/>
<line x1="239.27" y1="650.5" x2="239.27" y2="654.3" stroke-width="2" stroke-linecap="butt"/>
<line x1="285.09" y1="650.5" x2="285.09" y2="654.3" stroke-width="2" stroke-linecap="butt"/>
<text x="63.9" y="655" font-size="14.3" text-anchor="end">0</text>
<text x="63.9" y="629.72" font-size="14.3" text-anchor="end">10</text>
<text x="63.9" y="604.44" font-size="14.3" text-anchor="end">20</text>
<text x="63.9" y="579.16" font-size="14.3" text-anchor="end">30</text>
<text x="63.9" y="553.88" font-size="14.3" text-anchor="end">40</text>
<text x="63.9" y="528.6" font-size="14.3" text-anchor="end">50</text>
<text x="78.9" y="676.7" font-size="14.3" text-anchor="middle">0</text>
<text x="124.72" y="676.7" font-size="14.3" text-anchor="middle">10</text>
<text x="170.54" y="676.7" font-size="14.3" text-anchor="middle">20</text>
<text x="216.36" y="676.7" font-size="14.3" text-anchor="middle">30</text>
<text x="262.18" y="676.7" font-size="14.3" text-anchor="middle">40</text>
<text x="308" y="676.7" font-size="14.3" text-anchor="middle">50</text>
<path d="M124.72,574.66L170.54,602.72L216.36,633.31L285.09,639.12" fill="none" stroke-width="1.8" stroke-linejoin="round"/>
<path d="M124.72,549.38L170.54,549.38L216.36,605.25L285.09,648.48" fill="none" stroke-width="1.8" stroke-linejoin="round"/>
<path d="M124.72,542.3L170.54,556.46L216.36,596.91L285.09,637.61" fill="none" stroke-width="1.8" stroke-linejoin="round"/>
<line x1="124.72" y1="585.28" x2="124.72" y2="565.31" stroke-width="1.8" stroke-linecap="butt"/>
<line x1="120.62" y1="585.28" x2="128.82" y2="585.28" stroke-width="1.8" stroke-linecap="butt"/>
<line x1="120.62" y1="565.31" x2="128.82" y2="565.31" stroke-width="1.8" stroke-linecap="butt"/>
<line x1="170.54" y1="607.52" x2="170.54" y2="597.41" stroke-width="1.8" stroke-linecap="butt"/>
<line x1="166.44" y1="607.52" x2="174.64" y2="607.52" stroke-width="1.8" stroke-linecap="butt"/>
<line x1="166.44" y1="597.41" x2="174.64" y2="597.41" stroke-width="1.8" stroke-linecap="butt"/>
<circle cx="124.72" cy="574.66" r="5.6" fill="#000" stroke="none"/>
<circle cx="170.54" cy="602.72" r="5.6" fill="#000" stroke="none"/>
<circle cx="216.36" cy="633.31" r="5.6" fill="#000" stroke="none"/>
<circle cx="285.09" cy="639.12" r="5.6" fill="#000" stroke="none"/>
<line x1="170.54" y1="556.96" x2="170.54" y2="542.05" stroke-width="1.8" stroke-linecap="butt"/>
<line x1="166.44" y1="556.96" x2="174.64" y2="556.96" stroke-width="1.8" stroke-linecap="butt"/>
<line x1="166.44" y1="542.05" x2="174.64" y2="542.05" stroke-width="1.8" stroke-linecap="butt"/>
<line x1="216.36" y1="610.05" x2="216.36" y2="599.94" stroke-width="1.8" stroke-linecap="butt"/>
<line x1="212.26" y1="610.05" x2="220.46" y2="610.05" stroke-width="1.8" stroke-linecap="butt"/>
<line x1="212.26" y1="599.94" x2="220.46" y2="599.94" stroke-width="1.8" stroke-linecap="butt"/>
<circle cx="124.72" cy="549.38" r="4.9" fill="#fff" stroke-width="1.3"/>
<circle cx="170.54" cy="549.38" r="4.9" fill="#fff" stroke-width="1.3"/>
<circle cx="216.36" cy="605.25" r="4.9" fill="#fff" stroke-width="1.3"/>
<circle cx="285.09" cy="648.48" r="4.9" fill="#fff" stroke-width="1.3"/>
<line x1="124.72" y1="553.93" x2="124.72" y2="526.88" stroke-width="1.8" stroke-linecap="butt"/>
<line x1="120.62" y1="553.93" x2="128.82" y2="553.93" stroke-width="1.8" stroke-linecap="butt"/>
<line x1="120.62" y1="526.88" x2="128.82" y2="526.88" stroke-width="1.8" stroke-linecap="butt"/>
<line x1="170.54" y1="564.8" x2="170.54" y2="549.38" stroke-width="1.8" stroke-linecap="butt"/>
<line x1="166.44" y1="564.8" x2="174.64" y2="564.8" stroke-width="1.8" stroke-linecap="butt"/>
<line x1="166.44" y1="549.38" x2="174.64" y2="549.38" stroke-width="1.8" stroke-linecap="butt"/>
<line x1="216.36" y1="605" x2="216.36" y2="585.28" stroke-width="1.8" stroke-linecap="butt"/>
<line x1="212.26" y1="605" x2="220.46" y2="605" stroke-width="1.8" stroke-linecap="butt"/>
<line x1="212.26" y1="585.28" x2="220.46" y2="585.28" stroke-width="1.8" stroke-linecap="butt"/>
<path d="M119.72,538L129.72,538L124.72,546.6Z" fill="#fff" stroke-width="1.3" stroke-linejoin="miter"/>
<path d="M165.54,552.16L175.54,552.16L170.54,560.76Z" fill="#fff" stroke-width="1.3" stroke-linejoin="miter"/>
<path d="M211.36,592.61L221.36,592.61L216.36,601.21Z" fill="#fff" stroke-width="1.3" stroke-linejoin="miter"/>
<path d="M280.09,633.31L290.09,633.31L285.09,641.91Z" fill="#fff" stroke-width="1.3" stroke-linejoin="miter"/>
<circle cx="111.3" cy="534" r="0.5" fill="#000" stroke="none"/>
<path d="M111.3,533.5L112.3,530.42A1.05,1.05 0 1 0 110.3,530.42ZM111.73,533.75L114.9,533.08A1.05,1.05 0 1 0 113.9,531.35ZM111.73,534.25L113.9,536.65A1.05,1.05 0 1 0 114.9,534.92ZM111.3,534.5L110.3,537.58A1.05,1.05 0 1 0 112.3,537.58ZM110.87,533.75L108.7,531.35A1.05,1.05 0 1 0 107.7,533.08ZM110.87,534.25L107.7,534.92A1.05,1.05 0 1 0 108.7,536.65Z" fill="#000" stroke="none"/>
<circle cx="171.3" cy="530.5" r="0.5" fill="#000" stroke="none"/>
<path d="M171.3,530L172.3,526.92A1.05,1.05 0 1 0 170.3,526.92ZM171.73,530.25L174.9,529.58A1.05,1.05 0 1 0 173.9,527.85ZM171.73,530.75L173.9,533.15A1.05,1.05 0 1 0 174.9,531.42ZM171.3,531L170.3,534.08A1.05,1.05 0 1 0 172.3,534.08ZM170.87,530.25L168.7,527.85A1.05,1.05 0 1 0 167.7,529.58ZM170.87,530.75L167.7,531.42A1.05,1.05 0 1 0 168.7,533.15Z" fill="#000" stroke="none"/>
<circle cx="216.5" cy="574.1" r="0.5" fill="#000" stroke="none"/>
<path d="M216.5,573.6L217.5,570.52A1.05,1.05 0 1 0 215.5,570.52ZM216.93,573.85L220.1,573.18A1.05,1.05 0 1 0 219.1,571.45ZM216.93,574.35L219.1,576.75A1.05,1.05 0 1 0 220.1,575.02ZM216.5,574.6L215.5,577.68A1.05,1.05 0 1 0 217.5,577.68ZM216.07,573.85L213.9,571.45A1.05,1.05 0 1 0 212.9,573.18ZM216.07,574.35L212.9,575.02A1.05,1.05 0 1 0 213.9,576.75Z" fill="#000" stroke="none"/>
<line x1="353.3" y1="524.1" x2="353.3" y2="651.4" stroke-width="2" stroke-linecap="butt"/>
<line x1="353.3" y1="651.4" x2="582.7" y2="651.4" stroke-width="2" stroke-linecap="butt"/>
<line x1="345.5" y1="651.4" x2="353.3" y2="651.4" stroke-width="2" stroke-linecap="butt"/>
<line x1="345.5" y1="619.58" x2="353.3" y2="619.58" stroke-width="2" stroke-linecap="butt"/>
<line x1="345.5" y1="587.75" x2="353.3" y2="587.75" stroke-width="2" stroke-linecap="butt"/>
<line x1="345.5" y1="555.92" x2="353.3" y2="555.92" stroke-width="2" stroke-linecap="butt"/>
<line x1="345.5" y1="524.1" x2="353.3" y2="524.1" stroke-width="2" stroke-linecap="butt"/>
<line x1="349.5" y1="635.49" x2="353.3" y2="635.49" stroke-width="2" stroke-linecap="butt"/>
<line x1="349.5" y1="603.66" x2="353.3" y2="603.66" stroke-width="2" stroke-linecap="butt"/>
<line x1="349.5" y1="571.84" x2="353.3" y2="571.84" stroke-width="2" stroke-linecap="butt"/>
<line x1="349.5" y1="540.01" x2="353.3" y2="540.01" stroke-width="2" stroke-linecap="butt"/>
<line x1="392" y1="651.4" x2="392" y2="659.2" stroke-width="2" stroke-linecap="butt"/>
<line x1="468.25" y1="651.4" x2="468.25" y2="659.2" stroke-width="2" stroke-linecap="butt"/>
<line x1="544.5" y1="651.4" x2="544.5" y2="659.2" stroke-width="2" stroke-linecap="butt"/>
<line x1="353.88" y1="651.4" x2="353.88" y2="655.2" stroke-width="2" stroke-linecap="butt"/>
<line x1="430.12" y1="651.4" x2="430.12" y2="655.2" stroke-width="2" stroke-linecap="butt"/>
<line x1="506.38" y1="651.4" x2="506.38" y2="655.2" stroke-width="2" stroke-linecap="butt"/>
<line x1="582.62" y1="651.4" x2="582.62" y2="655.2" stroke-width="2" stroke-linecap="butt"/>
<text x="338.3" y="655.9" font-size="14.3" text-anchor="end">0</text>
<text x="338.3" y="624.08" font-size="14.3" text-anchor="end">10</text>
<text x="338.3" y="592.25" font-size="14.3" text-anchor="end">20</text>
<text x="338.3" y="560.42" font-size="14.3" text-anchor="end">30</text>
<text x="338.3" y="528.6" font-size="14.3" text-anchor="end">40</text>
<text x="392" y="677.6" font-size="14.3" text-anchor="middle">10</text>
<text x="468.25" y="677.6" font-size="14.3" text-anchor="middle">20</text>
<text x="544.5" y="677.6" font-size="14.3" text-anchor="middle">30</text>
<path d="M392,561.97L468.25,589.34L544.5,638.99" fill="none" stroke-width="1.8" stroke-linejoin="round"/>
<path d="M392,555.29L468.25,594.12L544.5,632.94" fill="none" stroke-width="1.8" stroke-linejoin="round"/>
<path d="M392,550.83L468.25,596.98L544.5,630.71" fill="none" stroke-width="1.8" stroke-linejoin="round"/>
<line x1="392" y1="571.84" x2="392" y2="552.74" stroke-width="1.8" stroke-linecap="butt"/>
<line x1="387.9" y1="571.84" x2="396.1" y2="571.84" stroke-width="1.8" stroke-linecap="butt"/>
<line x1="387.9" y1="552.74" x2="396.1" y2="552.74" stroke-width="1.8" stroke-linecap="butt"/>
<line x1="468.25" y1="597.3" x2="468.25" y2="581.38" stroke-width="1.8" stroke-linecap="butt"/>
<line x1="464.15" y1="597.3" x2="472.35" y2="597.3" stroke-width="1.8" stroke-linecap="butt"/>
<line x1="464.15" y1="581.38" x2="472.35" y2="581.38" stroke-width="1.8" stroke-linecap="butt"/>
<circle cx="392" cy="561.97" r="5.6" fill="#000" stroke="none"/>
<circle cx="468.25" cy="589.34" r="5.6" fill="#000" stroke="none"/>
<circle cx="544.5" cy="638.99" r="5.6" fill="#000" stroke="none"/>
<circle cx="392" cy="555.29" r="4.9" fill="#fff" stroke-width="1.3"/>
<circle cx="468.25" cy="594.12" r="4.9" fill="#fff" stroke-width="1.3"/>
<circle cx="544.5" cy="632.94" r="4.9" fill="#fff" stroke-width="1.3"/>
<line x1="392" y1="562.29" x2="392" y2="537.15" stroke-width="1.8" stroke-linecap="butt"/>
<line x1="387.9" y1="562.29" x2="396.1" y2="562.29" stroke-width="1.8" stroke-linecap="butt"/>
<line x1="387.9" y1="537.15" x2="396.1" y2="537.15" stroke-width="1.8" stroke-linecap="butt"/>
<line x1="468.25" y1="603.66" x2="468.25" y2="590.93" stroke-width="1.8" stroke-linecap="butt"/>
<line x1="464.15" y1="603.66" x2="472.35" y2="603.66" stroke-width="1.8" stroke-linecap="butt"/>
<line x1="464.15" y1="590.93" x2="472.35" y2="590.93" stroke-width="1.8" stroke-linecap="butt"/>
<path d="M387,546.53L397,546.53L392,555.13Z" fill="#fff" stroke-width="1.3" stroke-linejoin="miter"/>
<path d="M463.25,592.68L473.25,592.68L468.25,601.28Z" fill="#fff" stroke-width="1.3" stroke-linejoin="miter"/>
<path d="M539.5,626.41L549.5,626.41L544.5,635.01Z" fill="#fff" stroke-width="1.3" stroke-linejoin="miter"/>
<line x1="78.9" y1="745.9" x2="78.9" y2="872.7" stroke-width="2" stroke-linecap="butt"/>
<line x1="78.9" y1="872.7" x2="307.9" y2="872.7" stroke-width="2" stroke-linecap="butt"/>
<line x1="71.1" y1="872.7" x2="78.9" y2="872.7" stroke-width="2" stroke-linecap="butt"/>
<line x1="71.1" y1="830.43" x2="78.9" y2="830.43" stroke-width="2" stroke-linecap="butt"/>
<line x1="71.1" y1="788.17" x2="78.9" y2="788.17" stroke-width="2" stroke-linecap="butt"/>
<line x1="71.1" y1="745.9" x2="78.9" y2="745.9" stroke-width="2" stroke-linecap="butt"/>
<line x1="75.1" y1="851.57" x2="78.9" y2="851.57" stroke-width="2" stroke-linecap="butt"/>
<line x1="75.1" y1="809.3" x2="78.9" y2="809.3" stroke-width="2" stroke-linecap="butt"/>
<line x1="75.1" y1="767.03" x2="78.9" y2="767.03" stroke-width="2" stroke-linecap="butt"/>
<line x1="78.9" y1="872.7" x2="78.9" y2="880.5" stroke-width="2" stroke-linecap="butt"/>
<line x1="144.33" y1="872.7" x2="144.33" y2="880.5" stroke-width="2" stroke-linecap="butt"/>
<line x1="209.77" y1="872.7" x2="209.77" y2="880.5" stroke-width="2" stroke-linecap="butt"/>
<line x1="275.2" y1="872.7" x2="275.2" y2="880.5" stroke-width="2" stroke-linecap="butt"/>
<line x1="111.62" y1="872.7" x2="111.62" y2="876.5" stroke-width="2" stroke-linecap="butt"/>
<line x1="177.05" y1="872.7" x2="177.05" y2="876.5" stroke-width="2" stroke-linecap="butt"/>
<line x1="242.48" y1="872.7" x2="242.48" y2="876.5" stroke-width="2" stroke-linecap="butt"/>
<line x1="307.92" y1="872.7" x2="307.92" y2="876.5" stroke-width="2" stroke-linecap="butt"/>
<text x="63.9" y="877.2" font-size="14.3" text-anchor="end">0</text>
<text x="63.9" y="834.93" font-size="14.3" text-anchor="end">25</text>
<text x="63.9" y="792.67" font-size="14.3" text-anchor="end">50</text>
<text x="63.9" y="750.4" font-size="14.3" text-anchor="end">75</text>
<text x="78.9" y="898.9" font-size="14.3" text-anchor="middle">0</text>
<text x="144.33" y="898.9" font-size="14.3" text-anchor="middle">20</text>
<text x="209.77" y="898.9" font-size="14.3" text-anchor="middle">40</text>
<text x="275.2" y="898.9" font-size="14.3" text-anchor="middle">60</text>
<path d="M127.97,774.64L177.05,791.21L226.12,835.51L275.2,860.36" fill="none" stroke-width="1.8" stroke-linejoin="round"/>
<path d="M127.97,777.85L177.05,798.14L226.12,837.37L275.2,860.53" fill="none" stroke-width="1.8" stroke-linejoin="round"/>
<line x1="127.97" y1="779.71" x2="127.97" y2="769.91" stroke-width="1.8" stroke-linecap="butt"/>
<line x1="123.88" y1="779.71" x2="132.07" y2="779.71" stroke-width="1.8" stroke-linecap="butt"/>
<line x1="123.88" y1="769.91" x2="132.07" y2="769.91" stroke-width="1.8" stroke-linecap="butt"/>
<line x1="177.05" y1="796.62" x2="177.05" y2="785.29" stroke-width="1.8" stroke-linecap="butt"/>
<line x1="172.95" y1="796.62" x2="181.15" y2="796.62" stroke-width="1.8" stroke-linecap="butt"/>
<line x1="172.95" y1="785.29" x2="181.15" y2="785.29" stroke-width="1.8" stroke-linecap="butt"/>
<line x1="226.12" y1="840.58" x2="226.12" y2="832.12" stroke-width="1.8" stroke-linecap="butt"/>
<line x1="222.03" y1="840.58" x2="230.22" y2="840.58" stroke-width="1.8" stroke-linecap="butt"/>
<line x1="222.03" y1="832.12" x2="230.22" y2="832.12" stroke-width="1.8" stroke-linecap="butt"/>
<circle cx="127.97" cy="774.64" r="5.6" fill="#000" stroke="none"/>
<circle cx="177.05" cy="791.21" r="5.6" fill="#000" stroke="none"/>
<circle cx="226.12" cy="835.51" r="5.6" fill="#000" stroke="none"/>
<circle cx="275.2" cy="860.36" r="5.6" fill="#000" stroke="none"/>
<line x1="127.97" y1="784.79" x2="127.97" y2="772.95" stroke-width="1.8" stroke-linecap="butt"/>
<line x1="123.88" y1="784.79" x2="132.07" y2="784.79" stroke-width="1.8" stroke-linecap="butt"/>
<line x1="123.88" y1="772.95" x2="132.07" y2="772.95" stroke-width="1.8" stroke-linecap="butt"/>
<line x1="177.05" y1="805.24" x2="177.05" y2="793.24" stroke-width="1.8" stroke-linecap="butt"/>
<line x1="172.95" y1="805.24" x2="181.15" y2="805.24" stroke-width="1.8" stroke-linecap="butt"/>
<line x1="172.95" y1="793.24" x2="181.15" y2="793.24" stroke-width="1.8" stroke-linecap="butt"/>
<circle cx="127.97" cy="777.85" r="4.9" fill="#fff" stroke-width="1.3"/>
<circle cx="177.05" cy="798.14" r="4.9" fill="#fff" stroke-width="1.3"/>
<circle cx="226.12" cy="837.37" r="4.9" fill="#fff" stroke-width="1.3"/>
<circle cx="275.2" cy="860.53" r="4.9" fill="#fff" stroke-width="1.3"/>
<line x1="353.3" y1="745.3" x2="353.3" y2="872.5" stroke-width="2" stroke-linecap="butt"/>
<line x1="353.3" y1="872.5" x2="581.6" y2="872.5" stroke-width="2" stroke-linecap="butt"/>
<line x1="345.5" y1="872.5" x2="353.3" y2="872.5" stroke-width="2" stroke-linecap="butt"/>
<line x1="345.5" y1="830.1" x2="353.3" y2="830.1" stroke-width="2" stroke-linecap="butt"/>
<line x1="345.5" y1="787.7" x2="353.3" y2="787.7" stroke-width="2" stroke-linecap="butt"/>
<line x1="345.5" y1="745.3" x2="353.3" y2="745.3" stroke-width="2" stroke-linecap="butt"/>
<line x1="349.5" y1="851.3" x2="353.3" y2="851.3" stroke-width="2" stroke-linecap="butt"/>
<line x1="349.5" y1="808.9" x2="353.3" y2="808.9" stroke-width="2" stroke-linecap="butt"/>
<line x1="349.5" y1="766.5" x2="353.3" y2="766.5" stroke-width="2" stroke-linecap="butt"/>
<line x1="353.3" y1="872.5" x2="353.3" y2="880.3" stroke-width="2" stroke-linecap="butt"/>
<line x1="418.53" y1="872.5" x2="418.53" y2="880.3" stroke-width="2" stroke-linecap="butt"/>
<line x1="483.77" y1="872.5" x2="483.77" y2="880.3" stroke-width="2" stroke-linecap="butt"/>
<line x1="549" y1="872.5" x2="549" y2="880.3" stroke-width="2" stroke-linecap="butt"/>
<line x1="385.92" y1="872.5" x2="385.92" y2="876.3" stroke-width="2" stroke-linecap="butt"/>
<line x1="451.15" y1="872.5" x2="451.15" y2="876.3" stroke-width="2" stroke-linecap="butt"/>
<line x1="516.38" y1="872.5" x2="516.38" y2="876.3" stroke-width="2" stroke-linecap="butt"/>
<line x1="581.62" y1="872.5" x2="581.62" y2="876.3" stroke-width="2" stroke-linecap="butt"/>
<text x="338.3" y="877" font-size="14.3" text-anchor="end">0</text>
<text x="338.3" y="834.6" font-size="14.3" text-anchor="end">25</text>
<text x="338.3" y="792.2" font-size="14.3" text-anchor="end">50</text>
<text x="338.3" y="749.8" font-size="14.3" text-anchor="end">75</text>
<text x="353.3" y="898.7" font-size="14.3" text-anchor="middle">0</text>
<text x="418.53" y="898.7" font-size="14.3" text-anchor="middle">20</text>
<text x="483.77" y="898.7" font-size="14.3" text-anchor="middle">40</text>
<text x="549" y="898.7" font-size="14.3" text-anchor="middle">60</text>
<path d="M402.23,791.43L451.15,818.4L500.07,850.11L549,869.11" fill="none" stroke-width="1.8" stroke-linejoin="round"/>
<path d="M402.23,782.78L451.15,805.68L500.07,834.51L549,862.83" fill="none" stroke-width="1.8" stroke-linejoin="round"/>
<line x1="402.23" y1="795.33" x2="402.23" y2="787.7" stroke-width="1.8" stroke-linecap="butt"/>
<line x1="398.12" y1="795.33" x2="406.33" y2="795.33" stroke-width="1.8" stroke-linecap="butt"/>
<line x1="398.12" y1="787.7" x2="406.33" y2="787.7" stroke-width="1.8" stroke-linecap="butt"/>
<line x1="451.15" y1="822.47" x2="451.15" y2="813.99" stroke-width="1.8" stroke-linecap="butt"/>
<line x1="447.05" y1="822.47" x2="455.25" y2="822.47" stroke-width="1.8" stroke-linecap="butt"/>
<line x1="447.05" y1="813.99" x2="455.25" y2="813.99" stroke-width="1.8" stroke-linecap="butt"/>
<circle cx="402.23" cy="791.43" r="5.6" fill="#000" stroke="none"/>
<circle cx="451.15" cy="818.4" r="5.6" fill="#000" stroke="none"/>
<circle cx="500.07" cy="850.11" r="5.6" fill="#000" stroke="none"/>
<circle cx="549" cy="869.11" r="5.6" fill="#000" stroke="none"/>
<line x1="402.23" y1="787.7" x2="402.23" y2="776" stroke-width="1.8" stroke-linecap="butt"/>
<line x1="398.12" y1="787.7" x2="406.33" y2="787.7" stroke-width="1.8" stroke-linecap="butt"/>
<line x1="398.12" y1="776" x2="406.33" y2="776" stroke-width="1.8" stroke-linecap="butt"/>
<line x1="451.15" y1="809.75" x2="451.15" y2="802.12" stroke-width="1.8" stroke-linecap="butt"/>
<line x1="447.05" y1="809.75" x2="455.25" y2="809.75" stroke-width="1.8" stroke-linecap="butt"/>
<line x1="447.05" y1="802.12" x2="455.25" y2="802.12" stroke-width="1.8" stroke-linecap="butt"/>
<circle cx="402.23" cy="782.78" r="4.9" fill="#fff" stroke-width="1.3"/>
<circle cx="451.15" cy="805.68" r="4.9" fill="#fff" stroke-width="1.3"/>
<circle cx="500.07" cy="834.51" r="4.9" fill="#fff" stroke-width="1.3"/>
<circle cx="549" cy="862.83" r="4.9" fill="#fff" stroke-width="1.3"/>
<rect x="51.5" y="960.3" width="540.4" height="29.4" fill="none" stroke-width="2.6"/>
<line x1="57.5" y1="975.8" x2="97" y2="975.8" stroke-width="1.8" stroke-linecap="butt"/>
<circle cx="77" cy="975.8" r="5.6" fill="#000" stroke="none"/>
<text x="105.3" y="981.3" font-size="17" text-anchor="start" stroke="none">ODN2-RGSZ1M</text>
<line x1="250.8" y1="975.8" x2="289.5" y2="975.8" stroke-width="1.8" stroke-linecap="butt"/>
<circle cx="269.5" cy="975.8" r="4.9" fill="#fff" stroke-width="1.3"/>
<text x="298.2" y="981.3" font-size="17" text-anchor="start" stroke="none">ODN2-RGSZ1</text>
<line x1="426" y1="975.8" x2="465" y2="975.8" stroke-width="1.8" stroke-linecap="butt"/>
<path d="M440.7,971.5L450.7,971.5L445.7,980.1Z" fill="#fff" stroke-width="1.3"/>
<text x="474.8" y="981.3" font-size="17" text-anchor="start" stroke="none">ODN1-RGSZ1</text>
</svg>
</body></html>
